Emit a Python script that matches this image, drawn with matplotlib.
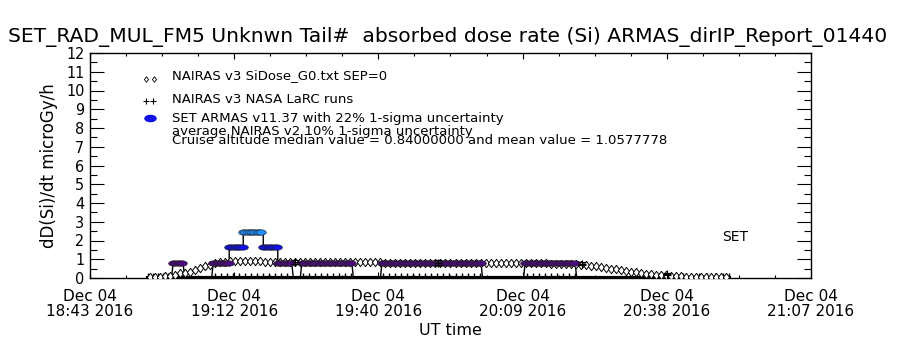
import numpy as np
import matplotlib
matplotlib.use("Agg")
import matplotlib.pyplot as plt
from matplotlib.path import Path
from matplotlib.lines import Line2D

# x is minutes after Dec 04 2016 18:43 UT
tick_min = [0, 28.8, 57.6, 86.4, 115.2, 144.0]
tick_labels = ["Dec 04\n18:43 2016", "Dec 04\n19:12 2016", "Dec 04\n19:40 2016",
               "Dec 04\n20:09 2016", "Dec 04\n20:38 2016", "Dec 04\n21:07 2016"]

# NAIRAS v3 SiDose_G0 (one point a minute from t=12)
nairas_t = np.arange(12, 128)
nairas_v = [0.03, 0.05, 0.07, 0.09,
            0.12, 0.18, 0.25, 0.28,
            0.33, 0.42, 0.52, 0.62, 0.72,
            0.80, 0.85, 0.88, 0.90, 0.90,
            0.90, 0.90, 0.90, 0.89, 0.89, 0.88, 0.88, 0.88, 0.87, 0.87,
            0.87, 0.87, 0.86, 0.86, 0.86, 0.86, 0.85, 0.85, 0.85, 0.85,
            0.85, 0.84, 0.84, 0.84, 0.84, 0.83, 0.83, 0.83, 0.83, 0.82,
            0.82, 0.82, 0.82, 0.82, 0.81, 0.81, 0.81, 0.81, 0.81, 0.80,
            0.80, 0.80, 0.80, 0.80, 0.80, 0.79, 0.79, 0.79, 0.79, 0.79,
            0.79, 0.79, 0.78, 0.78, 0.78, 0.78, 0.78, 0.78, 0.78, 0.78,
            0.78, 0.78, 0.77, 0.77, 0.77, 0.76, 0.75, 0.74, 0.72, 0.70,
            0.66, 0.62, 0.58, 0.54, 0.50, 0.46, 0.42, 0.38, 0.34, 0.30,
            0.27, 0.24, 0.21, 0.18, 0.16, 0.14, 0.12, 0.10, 0.09, 0.08,
            0.07, 0.06, 0.05, 0.05, 0.04, 0.04, 0.03, 0.03]

# NAIRAS v3 NASA LaRC runs, with error bars
larc_t = [40.9, 69.5, 98.3, 115.2]
larc_v = [0.85, 0.82, 0.75, 0.22]
larc_err = [0.12, 0.12, 0.08, 0.05]

# LaRC runs at zero level along the track
base_t = [11.6, 12.6, 13.6, 14.6, 15.6,
          25.0, 26.2, 27.4, 28.6, 29.8, 31.0, 32.2, 33.4, 34.6, 35.8, 37.0, 38.2, 39.4,
          42.6, 43.8, 45.0, 46.2, 47.4, 48.6, 49.8, 51.0, 52.2,
          58.6, 59.8, 61.0, 62.2, 63.4, 64.6, 65.8, 67.0, 68.2, 69.4, 70.6, 71.8,
          73.0, 74.2, 75.4, 76.6, 77.8,
          87.2, 88.4, 89.6, 90.8, 92.0, 93.2, 94.4, 95.6, 96.8,
          112.0, 113.6, 115.2, 116.8, 118.4, 120.0, 121.6, 123.2, 124.8, 126.4, 127.6]

# SET ARMAS v11.37 segments: start, end (minutes), dose rate
seg_start = [16.6, 24.6, 27.8, 30.6, 34.6, 37.5, 42.3, 58.3, 86.9]
seg_end = [18.6, 27.8, 30.6, 34.6, 37.5, 40.3, 52.3, 78.1, 96.9]
seg_level = [0.8, 0.8, 1.65, 2.45, 1.65, 0.8, 0.8, 0.8, 0.8]
seg_color = ["#4b0a7d", "#4b0a7d", "#1010e8", "#1e90ff", "#1010e8",
             "#4b0a7d", "#4b0a7d", "#4b0a7d", "#4b0a7d"]

fig = plt.figure(figsize=(9, 3.5), dpi=100)
ax = fig.add_axes([90/900, 1-278/350, (811-90)/900, (278-53)/350])

ell = Path(Path.unit_circle().vertices * [1, 0.55], Path.unit_circle().codes)
diam = Path([(0, 1), (0.75, 0), (0, -1), (-0.75, 0), (0, 1)])

# black connecting line of ARMAS, back to zero in gaps
line_t, line_v = [], []
for i in range(len(seg_start)):
    if i == 0 or seg_start[i] - seg_end[i-1] > 0.5:
        line_t.append(seg_start[i] - 0.3)
        line_v.append(0)
    line_t += [seg_start[i], seg_end[i]]
    line_v += [seg_level[i], seg_level[i]]
    if i == len(seg_start) - 1 or seg_start[i+1] - seg_end[i] > 0.5:
        line_t.append(seg_end[i] + 0.3)
        line_v.append(0)
ax.plot(line_t, line_v, color='k', lw=1, zorder=2)

ax.plot(base_t, np.zeros(len(base_t)), color='k', lw=3, marker='|', ms=7,
        mew=1, zorder=3)

ax.plot(nairas_t, nairas_v, ls='none', marker=diam, ms=6, mfc='white',
        mec='k', mew=0.7, zorder=4)

for i in range(len(seg_start)):
    ts = np.arange(seg_start[i], seg_end[i] + 0.01, 0.45)
    ax.plot(ts, np.full(len(ts), seg_level[i]), ls='none', marker=ell, ms=7,
            mfc=seg_color[i], mec='#202020', mew=0.4, zorder=5)

ax.errorbar(larc_t, larc_v, yerr=larc_err, fmt='+', color='k', ms=6,
            capsize=3, elinewidth=0.8, mew=0.8, zorder=6)

ax.set_xlim(0, 144)
ax.set_ylim(0, 12)
ax.set_xticks(tick_min)
ax.set_xticklabels(tick_labels, fontsize=11, linespacing=1.0)
ax.set_xticks(np.arange(0, 144.1, 7.2), minor=True)
ax.set_yticks(range(0, 13))
ax.set_yticklabels([str(v) for v in range(0, 13)], family='DejaVu Sans',
                   fontstretch='condensed', fontsize=11.5)
ax.set_yticks(np.arange(0, 12.1, 0.5), minor=True)
ax.tick_params(axis='y', direction='in', length=10, width=0.8, right=True, pad=4)
ax.tick_params(axis='y', which='minor', direction='in', length=5, width=0.8, right=True)
ax.tick_params(axis='x', direction='in', length=4, width=0.8, top=True, pad=8)
ax.tick_params(axis='x', which='minor', direction='in', length=2.5, width=0.8, top=True)
for s in ax.spines.values():
    s.set_linewidth(1)

ax.set_xlabel("UT time", fontsize=11.5, labelpad=3)
ax.set_ylabel("dD(Si)/dt microGy/h", fontsize=12, labelpad=6)
fig.text(0.497, 1-37/350, "SET_RAD_MUL_FM5 Unknwn Tail#  absorbed dose rate (Si) ARMAS_dirIP_Report_01440",
         ha='center', va='center', fontsize=14.6)

# legend block
tf = fig.transFigure
fig.add_artist(Line2D([146/900, 154/900], [1-79/350]*2, ls='none', marker=diam, ms=4,
                      mfc='white', mec='k', mew=0.6, transform=tf))
fig.add_artist(Line2D([146/900, 153/900], [1-101/350]*2, ls='none', marker='+', ms=5,
                      color='k', mew=0.8, transform=tf))
fig.add_artist(Line2D([150/900], [1-118/350], ls='none', marker=ell, ms=8,
                      mfc='#1010e8', mec='#1010e8', transform=tf))
fs = 9.5
fig.text(172/900, 1-76/350, "NAIRAS v3 SiDose_G0.txt SEP=0", fontsize=fs, va='center')
fig.text(172/900, 1-99/350, "NAIRAS v3 NASA LaRC runs", fontsize=fs, va='center')
fig.text(172/900, 1-118/350, "SET ARMAS v11.37 with 22% 1-sigma uncertainty", fontsize=fs, va='center')
fig.text(172/900, 1-131/350, "average NAIRAS v2 10% 1-sigma uncertainty", fontsize=fs, va='center')
fig.text(172/900, 1-141/350, "Cruise altitude median value = 0.84000000 and mean value = 1.0577778",
         fontsize=fs, va='center')
fig.text(722/900, 1-237/350, "SET", fontsize=10, va='center')

fig.savefig("out.png", dpi=100)
